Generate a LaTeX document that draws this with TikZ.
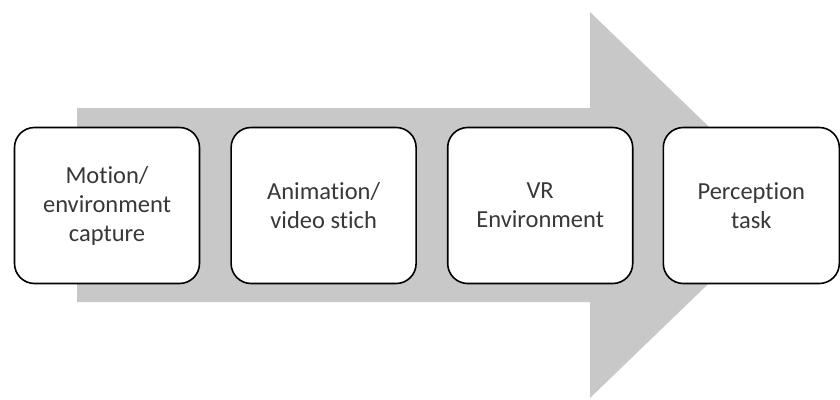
\documentclass[tikz,border=0pt]{standalone}
\usepackage{fontspec}
\setmainfont{Carlito}[Ligatures=NoCommon]
\usetikzlibrary{positioning}
\definecolor{arrowgrey}{RGB}{200,200,200}
\tikzset{stage/.style={draw, line width=1.6pt, rounded corners=20pt, fill=white,
  minimum width=185pt, minimum height=156pt, inner sep=0pt, align=center,
  text=black!78, font=\fontsize{24.5}{29}\selectfont}}

\begin{document}
\begin{tikzpicture}[x=1pt,y=-1pt]
        \useasboundingbox (0,0) rectangle (840,399);
        \coordinate (T) at (77,108);
        \coordinate (N) at (590,108);
        \coordinate (H) at (590,12);
        \coordinate (P) at (790,205);
        \coordinate (L) at (590,398);
        \coordinate (M) at (590,302);
        \coordinate (B) at (77,302);
        \fill[arrowgrey] (T)--(N)--(H)--(P)--(L)--(M)--(B)--cycle;

        \node[stage] (capture) at (107,205.5) {Motion/\\environment\\capture};
        \node[stage, right=30pt of capture] (stitch) {Animation/\\video stich};
        \node[stage, right=30pt of stitch] (vr) {VR\\Environment};
        % last box runs to the page edge
        \node[stage, minimum width=176pt, right=29pt of vr] (task) {Perception\\task};
\end{tikzpicture}
\end{document}
